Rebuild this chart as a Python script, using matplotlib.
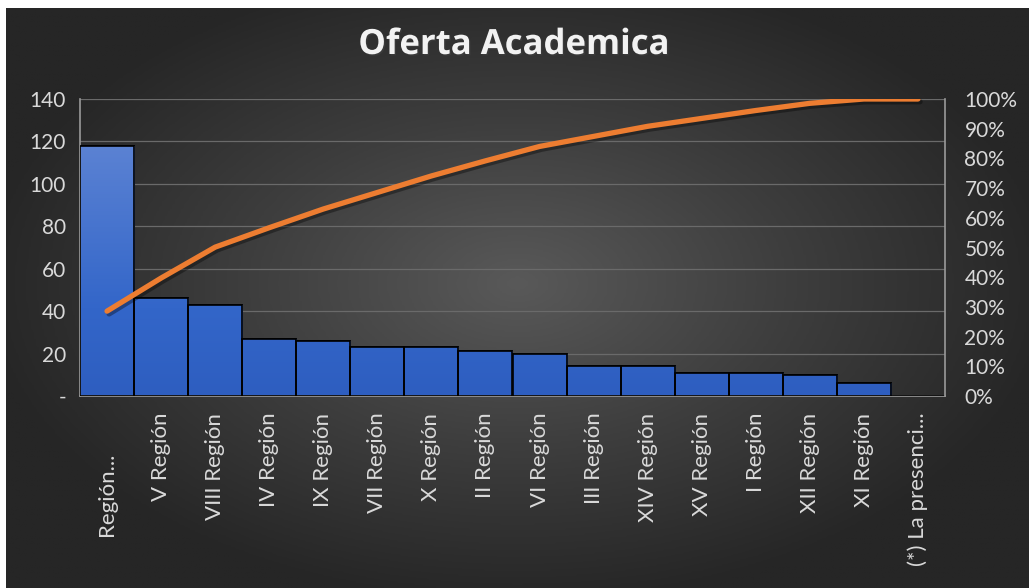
import matplotlib.pyplot as plt
import matplotlib.patheffects as pe
import matplotlib.transforms as mtransforms
import numpy as np
from matplotlib.colors import LinearSegmentedColormap
from matplotlib.ticker import FuncFormatter, PercentFormatter

regiones = ["Región Metropolitana", "V Región", "VIII Región", "IV Región", "IX Región",
            "VII Región", "X Región", "II Región", "VI Región", "III Región",
            "XIV Región", "XV Región", "I Región", "XII Región", "XI Región",
            "(*) La presencia"]
etiquetas = ["Región...", "V Región", "VIII Región", "IV Región", "IX Región",
             "VII Región", "X Región", "II Región", "VI Región", "III Región",
             "XIV Región", "XV Región", "I Región", "XII Región", "XI Región",
             "(*) La presenci..."]
oferta = [118, 46, 43, 27, 26, 23, 23, 21, 20, 14, 14, 11, 11, 10, 6, 0]

oferta = np.array(oferta)
acumulado = np.cumsum(oferta) / oferta.sum()
x = np.arange(len(oferta))

plt.rcParams['font.family'] = ['Lato', 'DejaVu Sans']
TXT = "#d9d9d9"

fig = plt.figure(figsize=(10.29, 5.88), dpi=100, facecolor="white")

# fondo con degradado radial
bg = fig.add_axes([6/1029, 0, 1 - 6/1029, 1 - 8/588])
bg.set_axis_off()
gx, gy = np.meshgrid(np.linspace(-1, 1, 400), np.linspace(-1, 1, 240))
r = np.clip(np.sqrt((gx * 0.95) ** 2 + ((gy + 0.05) * 0.9) ** 2), 0, 1)
bg_cmap = LinearSegmentedColormap.from_list("bg", ["#595959", "#3e3e3e", "#262626"])
bg.imshow(r, cmap=bg_cmap, aspect="auto", extent=[0, 1, 0, 1], vmin=0, vmax=1)
bg.set_xlim(0, 1)
bg.set_ylim(0, 1)

ax = fig.add_axes([80/1029, 1 - 396/588, (945 - 80)/1029, (396 - 99)/588])
ax.set_facecolor("none")

bar_cmap = LinearSegmentedColormap.from_list("bar", [(0, "#2e5ec0"), (0.35, "#3366c9"), (1, "#5b82d3")])
grad = np.linspace(0, 1, 256).reshape(-1, 1)
bars = ax.bar(x, oferta, width=1.0, color="#3366c9", edgecolor="black", linewidth=1.2, zorder=2)
for b in bars:
    im = ax.imshow(grad, cmap=bar_cmap, origin="lower", aspect="auto",
                   extent=[-0.5, len(oferta) - 0.5, 0, 118], zorder=2.5)
    im.set_clip_path(b)
for b in bars:
    ax.bar(b.get_x() + 0.5, b.get_height(), width=1.0, color="none",
           edgecolor="black", linewidth=1.2, zorder=3)

ax.set_xlim(-0.5, len(oferta) - 0.5)
ax.set_ylim(0, 140)
ax.set_yticks(np.arange(0, 141, 20))
ax.yaxis.set_major_formatter(FuncFormatter(lambda v, p: "-" if v == 0 else f"{v:.0f}"))
ax.grid(axis="y", color="#6a6a6a", linewidth=0.9, zorder=0)
ax.set_axisbelow(True)
ax.set_xticks(x)
ax.set_xticklabels(etiquetas, rotation=90, va="top", ha="center")
ax.tick_params(axis="x", length=0, pad=12, labelsize=16, labelcolor=TXT)
ax.tick_params(axis="y", length=0, pad=10, labelsize=15, labelcolor=TXT)
for s in ["top", "right"]:
    ax.spines[s].set_visible(False)
ax.spines["left"].set_color("#9a9a9a")
ax.spines["bottom"].set_color("#9a9a9a")
ax.spines["left"].set_linewidth(1.2)
ax.spines["bottom"].set_linewidth(1.2)

lbl0 = ax.get_xticklabels()[0]
lbl0.set_transform(lbl0.get_transform() + mtransforms.ScaledTranslation(0, -40/100, fig.dpi_scale_trans))

ax2 = ax.twinx()
ax2.plot(x, acumulado, color="#ed7d31", linewidth=3.8, solid_capstyle="round", zorder=5,
         path_effects=[pe.SimpleLineShadow(offset=(1.5, -2), shadow_color="black", alpha=0.35),
                       pe.Normal()])
ax2.set_ylim(0, 1)
ax2.set_yticks(np.arange(0, 1.01, 0.1))
ax2.yaxis.set_major_formatter(PercentFormatter(1.0, decimals=0))
ax2.tick_params(axis="y", length=0, pad=14, labelsize=15, labelcolor=TXT)
for s in ["top", "left", "bottom"]:
    ax2.spines[s].set_visible(False)
ax2.spines["right"].set_color("#9a9a9a")
ax2.spines["right"].set_linewidth(1.2)

fig.text(514/1029, 1 - 45/588, "Oferta Academica", ha="center", va="center",
         fontsize=25, fontweight="bold", color="#f2f2f2", family=["Open Sans", "DejaVu Sans"],
         path_effects=[pe.withSimplePatchShadow(offset=(1, -1), alpha=0.4)])

fig.savefig("out.png", dpi=100, facecolor=fig.get_facecolor())
